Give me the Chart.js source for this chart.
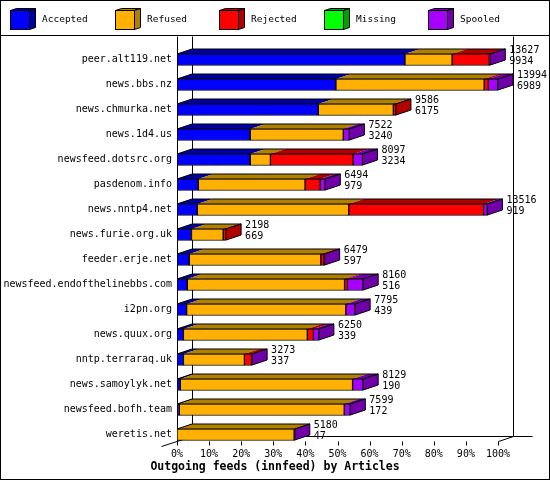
<!DOCTYPE html>
<html>
<head>
<meta charset="utf-8">
<script src="https://cdn.jsdelivr.net/npm/chart.js@4.4.1/dist/chart.umd.min.js"></script>
<style>
html,body{margin:0;padding:0;background:#fff;overflow:hidden}
#wrap{width:550px;height:480px;position:relative}
canvas{display:block}
</style>
</head>
<body>
<div id="wrap"><canvas id="c" width="550" height="480"></canvas></div>
<script>
// ---- data (percent of articles per feed) ----
const feeds = ['peer.alt119.net','news.bbs.nz','news.chmurka.net','news.1d4.us','newsfeed.dotsrc.org',
  'pasdenom.info','news.nntp4.net','news.furie.org.uk','feeder.erje.net','newsfeed.endofthelinebbs.com',
  'i2pn.org','news.quux.org','nntp.terraraq.uk','news.samoylyk.net','newsfeed.bofh.team','weretis.net'];
const accepted = [71.0, 49.5, 44.0, 22.8, 22.8, 6.6, 6.3, 4.5, 3.8, 3.2, 3.0, 2.0, 2.0, 1.0, 0.7, 0];
const refused  = [14.7, 46.2, 23.4, 29.0, 6.3, 33.3, 47.2, 9.9, 41.0, 49.0, 49.6, 38.6, 19.0, 53.7, 51.4, 36.5];
const rejected = [11.6, 1.3, 0.8, 0, 25.8, 4.7, 42.0, 0.9, 1.0, 0.9, 0, 1.9, 2.2, 0, 0, 0];
const missing  = [0, 0, 0, 0, 0, 0, 0, 0, 0, 0, 0, 0, 0, 0, 0, 0];
const spooled  = [0.3, 3.0, 0, 1.9, 2.9, 1.6, 1.2, 0, 0.2, 4.9, 2.9, 1.7, 0.2, 3.3, 1.9, 0.2];
const totalArticles    = [13627, 13994, 9586, 7522, 8097, 6494, 13516, 2198, 6479, 8160, 7795, 6250, 3273, 8129, 7599, 5180];
const acceptedArticles = [9934, 6989, 6175, 3240, 3234, 979, 919, 669, 597, 516, 439, 339, 337, 190, 172, 47];
const seriesNames = ['Accepted','Refused','Rejected','Missing','Spooled'];
const xTickStep = 10;
const chartTitle = 'Outgoing feeds (innfeed) by Articles';

// ---- styles ----
const frontColors = ['#0000ff','#ffb000','#ff0000','#00ff00','#a800ff'];
const darkColors  = ['#0000a0','#b08000','#b00000','#00a000','#7000a8'];
const MONO = "'DejaVu Sans Mono', 'Liberation Mono', monospace";
const DX = 15, DY = 5;

function poly(ctx, pts, fill) {
  ctx.beginPath();
  ctx.moveTo(pts[0][0], pts[0][1]);
  for (let i = 1; i < pts.length; i++) ctx.lineTo(pts[i][0], pts[i][1]);
  ctx.closePath();
  if (fill) { ctx.fillStyle = fill; ctx.fill(); }
  ctx.stroke();
}
function line(ctx, x1, y1, x2, y2) {
  ctx.beginPath(); ctx.moveTo(x1, y1); ctx.lineTo(x2, y2); ctx.stroke();
}

const frame3d = {
  id: 'frame3d',
  beforeDraw(chart) {
    const {ctx, width, height} = chart;
    ctx.save();
    ctx.fillStyle = '#fff';
    ctx.fillRect(0, 0, width, height);
    ctx.strokeStyle = '#000';
    ctx.lineWidth = 1;
    ctx.strokeRect(0.5, 0.5, width - 1, height - 1);
    line(ctx, 0, 35.5, width, 35.5);
    // legend with little cubes
    ctx.font = '9.5px ' + MONO;
    ctx.textBaseline = 'middle';
    ctx.textAlign = 'left';
    seriesNames.forEach((name, i) => {
      const x0 = Math.round(10 + i * 104.5) + 0.5, y0 = 10.5, s = 19;
      poly(ctx, [[x0, y0], [x0 + s, y0], [x0 + s + 6, y0 - 2], [x0 + 6, y0 - 2]], darkColors[i]);
      poly(ctx, [[x0 + s, y0], [x0 + s + 6, y0 - 2], [x0 + s + 6, y0 + s - 2], [x0 + s, y0 + s]], darkColors[i]);
      ctx.fillStyle = frontColors[i];
      ctx.fillRect(x0, y0, s, s);
      ctx.strokeRect(x0, y0, s, s);
      ctx.fillStyle = '#000';
      ctx.fillText(name, x0 + 31.5, 20);
    });
    // title
    ctx.font = 'bold 11.5px ' + MONO;
    ctx.textAlign = 'center';
    ctx.fillText(chartTitle, width / 2, 467);
    ctx.restore();
  },
  beforeDatasetsDraw(chart) {
    const {ctx} = chart;
    const xs = chart.scales.x, ys = chart.scales.y;
    const x0 = Math.round(xs.getPixelForValue(0)) + 0.5;
    const x100 = Math.round(xs.getPixelForValue(100)) + 0.5;
    const lastY = ys.getPixelForValue(feeds.length - 1);
    const front = Math.round(lastY + 6) + 0.5;
    const back = front - DY;
    const top = 36.5;
    ctx.save();
    ctx.strokeStyle = '#000';
    ctx.lineWidth = 1;
    line(ctx, x0, top, x0, front);
    line(ctx, x0 + DX, top, x0 + DX, back);
    line(ctx, x100 + DX, top, x100 + DX, back);
    line(ctx, x0 + DX, back, x100 + DX + 19, back);
    line(ctx, x100 + DX, back, x100, front);
    line(ctx, x0 + DX, back, x0 - 16, front + 5);
    for (let v = 0; v <= 100; v += xTickStep) {
      const px = Math.round(xs.getPixelForValue(v)) + 0.5;
      line(ctx, px, front, px, front + 4);
    }
    ctx.restore();
  },
  afterDatasetsDraw(chart) {
    const {ctx} = chart;
    ctx.save();
    ctx.strokeStyle = '#000';
    ctx.lineWidth = 1;
    ctx.font = '10px ' + MONO;
    ctx.textBaseline = 'middle';
    ctx.textAlign = 'left';
    feeds.forEach((f, i) => {
      let segs = [];
      chart.data.datasets.forEach((ds, d) => {
        if (ds.data[i] > 0) {
          const el = chart.getDatasetMeta(d).data[i];
          const p = el.getProps(['x', 'y', 'base', 'height'], true);
          segs.push({d, x: p.x, base: p.base, y: p.y, h: p.height});
        }
      });
      if (!segs.length) return;
      const t = segs[0].y - segs[0].h / 2 + 0.5;
      const b = segs[0].y + segs[0].h / 2 - 0.5;
      // top faces
      segs.forEach(s => {
        ctx.beginPath();
        ctx.moveTo(s.base, t); ctx.lineTo(s.x, t);
        ctx.lineTo(s.x + DX, t - DY); ctx.lineTo(s.base + DX, t - DY);
        ctx.closePath();
        ctx.fillStyle = darkColors[s.d];
        ctx.fill();
      });
      const start = segs[0].base, last = segs[segs.length - 1];
      const end = last.x;
      poly(ctx, [[start, t], [end, t], [end + DX, t - DY], [start + DX, t - DY]], null);
      poly(ctx, [[end, t], [end + DX, t - DY], [end + DX, b - DY], [end, b]], darkColors[last.d]);
      // value labels
      ctx.fillStyle = '#000';
      const cy = segs[0].y;
      ctx.fillText(String(totalArticles[i]), end + DX + 4, cy - 9.5);
      ctx.fillText(String(acceptedArticles[i]), end + DX + 4, cy + 1.5);
    });
    ctx.restore();
  }
};

const seriesData = [accepted, refused, rejected, missing, spooled];
const datasets = seriesNames.map((name, i) => ({
  label: name,
  data: seriesData[i],
  backgroundColor: frontColors[i],
  borderColor: '#000',
  borderWidth: 1,
  borderSkipped: false,
  barThickness: 12
}));

new Chart(document.getElementById('c'), {
  type: 'bar',
  data: { labels: feeds, datasets },
  options: {
    indexAxis: 'y',
    responsive: false,
    animation: false,
    layout: { padding: { top: 47, right: 52, bottom: 19, left: 0 } },
    plugins: {
      legend: { display: false },
      tooltip: { enabled: false },
      title: { display: false }
    },
    scales: {
      x: {
        stacked: true,
        min: 0, max: 100,
        grid: { display: false, drawTicks: false },
        border: { display: false },
        ticks: {
          stepSize: xTickStep,
          autoSkip: false,
          maxRotation: 0,
          padding: 1,
          color: '#000',
          font: { family: MONO, size: 10 },
          callback: v => v + '%'
        },
        afterFit: s => { s.height = 14; }
      },
      y: {
        stacked: true,
        grid: { display: false, drawTicks: false },
        border: { display: false },
        ticks: {
          padding: 5,
          color: '#000',
          autoSkip: false,
          font: { family: MONO, size: 10 }
        },
        afterFit: s => { s.width = 177; }
      }
    }
  },
  plugins: [frame3d]
});
</script>
</body>
</html>
